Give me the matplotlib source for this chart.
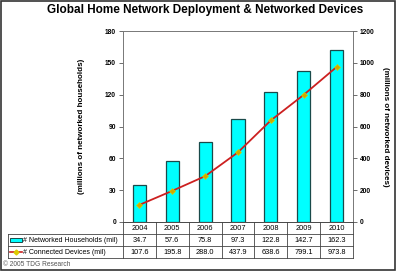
import matplotlib.pyplot as plt
from matplotlib.patches import Rectangle
from matplotlib.lines import Line2D

plt.rcParams['font.family'] = ['Liberation Sans', 'DejaVu Sans']

years = ['2004', '2005', '2006', '2007', '2008', '2009', '2010']
households = [34.7, 57.6, 75.8, 97.3, 122.8, 142.7, 162.3]
devices = [107.6, 195.8, 288.0, 437.9, 638.6, 799.1, 973.8]
left_ticks = [0, 30, 60, 90, 120, 150, 180]
right_ticks = [0, 200, 400, 600, 800, 1000, 1200]

W, H = 396, 271
fig = plt.figure(figsize=(W / 100, H / 100), dpi=100)
fig.patch.set_facecolor('white')

def fx(px):
    return px / W

def fy(py):
    return 1 - py / H

# main plot area
x0, x1, ytop, ybot = 123, 353, 31, 222
ax = fig.add_axes([fx(x0), fy(ybot), fx(x1) - fx(x0), fy(ytop) - fy(ybot)])
xs = list(range(len(years)))
ax.bar(xs, households, width=0.4, color='#00FFFF', edgecolor='#1a4a4a', linewidth=0.9, zorder=2)
ax.set_xlim(-0.5, 6.5)
ax.set_ylim(0, 180)
ax.set_yticks(left_ticks)
ax.set_xticks([])
ax.tick_params(axis='y', labelsize=4.8, length=3, width=0.6, color='#555555', pad=2)
for lab in ax.get_yticklabels():
    lab.set_fontweight('bold')
for s in ax.spines.values():
    s.set_color('#777777')
    s.set_linewidth(0.7)
ax.set_ylabel('(millions of networked households)', fontsize=5.8, fontweight='bold', labelpad=14)

ax2 = ax.twinx()
ax2.plot(xs, devices, color='#cc2020', linewidth=1.3, zorder=3,
         marker='D', markersize=3, markerfacecolor='#ccaa00', markeredgecolor='#ddcc00', markeredgewidth=0.5)
ax2.set_ylim(0, 1200)
ax2.set_yticks(right_ticks)
ax2.tick_params(axis='y', labelsize=4.8, length=3, width=0.6, color='#555555', pad=2)
for lab in ax2.get_yticklabels():
    lab.set_fontweight('bold')
for s in ax2.spines.values():
    s.set_visible(False)
ax2.set_ylabel('(millions of networked devices)', fontsize=5.8, fontweight='bold',
               rotation=270, labelpad=10)

# data table under the chart
tx0, ty0, ty1 = 8, 222, 258
tab = fig.add_axes([fx(tx0), fy(ty1), fx(x1) - fx(tx0), fy(ty0) - fy(ty1)])
tab.set_xlim(-0.5 - (x0 - tx0) / ((x1 - x0) / 7), 6.5)
tab.set_ylim(0, 3)
tab.axis('off')
lc = '#444444'
xl = tab.get_xlim()[0]
for yy in [0, 1, 2]:
    tab.plot([xl, 6.5], [yy, yy], color=lc, lw=0.6, clip_on=False)
tab.plot([-0.5, 6.5], [3, 3], color=lc, lw=0.6, clip_on=False)
tab.plot([xl, xl], [0, 2], color=lc, lw=0.6, clip_on=False)
for i in range(8):
    tab.plot([i - 0.5, i - 0.5], [0, 3], color=lc, lw=0.6, clip_on=False)
for i, y in enumerate(years):
    tab.text(i, 2.5, y, ha='center', va='center', fontsize=5.3)
    tab.text(i, 1.5, f'{households[i]:.1f}', ha='center', va='center', fontsize=5.3)
    tab.text(i, 0.5, f'{devices[i]:.1f}', ha='center', va='center', fontsize=5.3)
tab.add_patch(Rectangle((xl + 0.06, 1.3), 0.38, 0.4, facecolor='#00FFFF', edgecolor='#1a4a4a', lw=0.7))
tab.text(xl + 0.46, 1.5, '# Networked Households (mil)', ha='left', va='center', fontsize=5)
tab.add_line(Line2D([xl + 0.06, xl + 0.44], [0.5, 0.5], color='#cc2020', lw=1.2))
tab.plot([xl + 0.25], [0.5], marker='D', markersize=2.5, color='#ddcc00')
tab.text(xl + 0.46, 0.5, '# Connected Devices (mil)', ha='left', va='center', fontsize=5)

fig.text(fx(205), fy(10), 'Global Home Network Deployment & Networked Devices',
         ha='center', va='center', fontsize=8.5, fontweight='bold')
fig.text(fx(3), fy(265), '\u00a9 2005 TDG Research', ha='left', va='center', fontsize=4.8, color='#555555')
fig.add_artist(Rectangle((0.002, 0.003), 0.995, 0.994, transform=fig.transFigure,
                         fill=False, edgecolor='#333333', lw=1.2))

fig.savefig('out.png', dpi=100)
